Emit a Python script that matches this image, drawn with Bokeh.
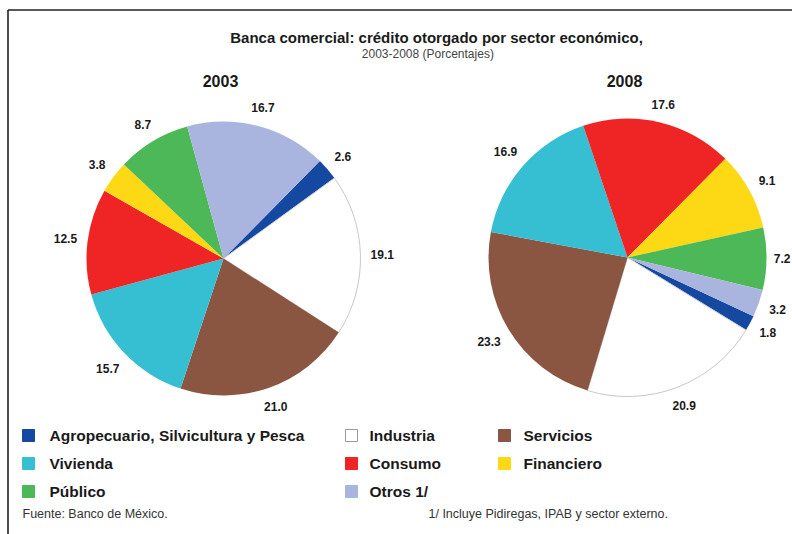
import math
from bokeh.plotting import figure
from bokeh.models import Range1d, ColumnDataSource
from bokeh.core.properties import value
from bokeh.embed import file_html
from bokeh.resources import INLINE

# ---- data ----
categories = ["Agropecuario, Silvicultura y Pesca", "Industria", "Servicios",
              "Vivienda", "Consumo", "Financiero", "Público", "Otros 1/"]
values_2003 = [2.6, 19.1, 21.0, 15.7, 12.5, 3.8, 8.7, 16.7]
values_2008 = [1.8, 20.9, 23.3, 16.9, 17.6, 9.1, 7.2, 3.2]
colors = ["#1548a0", "#ffffff", "#8a5541", "#36bed3", "#ee2524",
          "#fdd815", "#4db857", "#a9b5de"]
title_text = "Banca comercial: crédito otorgado por sector económico,"
subtitle_text = "2003-2008  (Porcentajes)"
source_text = "Fuente: Banco de México."
note_text = "1/ Incluye Pidiregas, IPAB y sector externo."

W, H = 792, 534
FONT = value("Liberation Sans")


def py(y):  # page y -> data y
    return H - y


p = figure(width=W, height=H, x_range=Range1d(0, W), y_range=Range1d(0, H),
           x_axis_type=None, y_axis_type=None, toolbar_location=None,
           output_backend="svg", min_border=0)
p.grid.visible = False
p.outline_line_color = None
p.background_fill_color = "white"
p.border_fill_color = "white"

# frame lines (left and top)
p.segment(x0=[7.5, 7.5], y0=[py(9.5), py(9.5)], x1=[7.5, W], y1=[0, py(9.5)],
          line_color="#222222", line_width=1.6)

# titles
p.text(x=[436], y=[py(37)], text=[title_text], text_font=FONT, text_font_style="bold",
       text_font_size="15px", text_align="center", text_baseline="middle", text_color="#1a1a1a")
p.text(x=[429], y=[py(53)], text=[subtitle_text], text_font=FONT,
       text_font_size="12px", text_align="center", text_baseline="middle", text_color="#444444")


def draw_pie(vals, cx, cy_page, r, theta0_deg, year):
    cy = py(cy_page)
    total = sum(vals)
    t0 = math.radians(theta0_deg)
    cum = 0.0
    starts, ends = [], []
    lx, ly, lt = [], [], []
    for v in vals:
        a_before = t0 - cum / total * 2 * math.pi
        cum += v
        a_after = t0 - cum / total * 2 * math.pi
        starts.append(a_after)
        ends.append(a_before)
        mid = (a_before + a_after) / 2
        txt = f"{v:.1f}"
        w = 12 * (0.556 * (len(txt) - 1) + 0.278)
        h = 12
        c, s = math.cos(mid), math.sin(mid)
        rr = r + 10 + (w / 2) * abs(c) + (h / 2) * abs(s)
        x = cx + rr * c
        x = min(x, W - 2 - w / 2)  # keep label inside the canvas
        lx.append(x)
        ly.append(cy + rr * s)
        lt.append(txt)
    src = ColumnDataSource(dict(x=[cx] * len(vals), y=[cy] * len(vals),
                                start=starts, end=ends, color=colors,
                                line=["#c8c8c8" if c == "#ffffff" else None for c in colors]))
    p.wedge(x="x", y="y", radius=r, start_angle="start", end_angle="end",
            direction="anticlock", fill_color="color", line_color="line",
            line_width=1, source=src)
    p.text(x=lx, y=ly, text=lt, text_font=FONT, text_font_style="bold",
           text_font_size="12px", text_align="center", text_baseline="middle",
           text_color="#1a1a1a")
    p.text(x=[cx - 3], y=[py(80)], text=[year], text_font=FONT, text_font_style="bold",
           text_font_size="16px", text_align="center", text_baseline="middle",
           text_color="#1a1a1a")


draw_pie(values_2003, 223, 258, 137, 45.3, "2003")
draw_pie(values_2008, 627, 257, 139, -25.0, "2008")

# legend
sq_x = [28, 351, 504]
tx_x = [49, 369, 523]
row_y = [435, 463, 491]
lsx, lsy, ltx, lty, lcol, lline = [], [], [], [], [], []
for i, name in enumerate(categories):
    col, row = i % 3, i // 3
    lsx.append(sq_x[col]); lsy.append(py(row_y[row]))
    ltx.append(tx_x[col]); lty.append(py(row_y[row]))
    lcol.append(colors[i])
    lline.append("#9a9a9a" if colors[i] == "#ffffff" else colors[i])
p.rect(x=lsx, y=lsy, width=12, height=12, fill_color=lcol, line_color=lline, line_width=1)
p.text(x=ltx, y=lty, text=categories, text_font=FONT, text_font_style="bold",
       text_font_size="15.5px", text_align="left", text_baseline="middle", text_color="#1a1a1a")

# footer
p.text(x=[22], y=[py(513)], text=[source_text], text_font=FONT, text_font_size="12.5px",
       text_align="left", text_baseline="middle", text_color="#333333")
p.text(x=[428], y=[py(513)], text=[note_text], text_font=FONT, text_font_size="12.5px",
       text_align="left", text_baseline="middle", text_color="#333333")

open("out.html", "w").write(file_html(p, INLINE))
